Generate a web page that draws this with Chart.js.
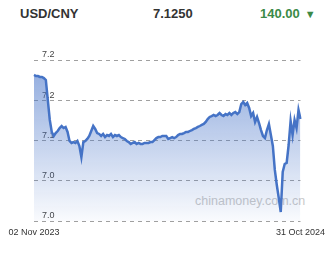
<!DOCTYPE html>
<html>
<head>
<meta charset="utf-8">
<script src="https://cdn.jsdelivr.net/npm/chart.js@4"></script>
<style>
  html, body { margin: 0; padding: 0; background: #fff; }
  #wrap { position: relative; width: 331px; height: 255px; font-family: "Liberation Sans", Arial, sans-serif; }
  .hd { position: absolute; top: 6px; font-size: 13px; font-weight: bold; color: #333; }
  #pair { left: 20px; }
  #rate { left: 153px; }
  #chg { left: 260px; color: #3b8a47; }
  #chg span { font-size: 11px; margin-left: 5px; }
  #mark { position: absolute; left: 195px; top: 194px; font-size: 12.5px; color: #c9c9c9; z-index: 0; }
  #c { position: absolute; left: 0; top: 0; z-index: 1; }
</style>
</head>
<body>
<div id="wrap">
  <div class="hd" id="pair">USD/CNY</div>
  <div class="hd" id="rate">7.1250</div>
  <div class="hd" id="chg">140.00<span>▼</span></div>
  <div id="mark">chinamoney.com.cn</div>
  <canvas id="c" width="331" height="255"></canvas>
</div>
<script>
var startLabel = "02 Nov 2023";
var endLabel = "31 Oct 2024";
var yTicks = [7.00, 7.05, 7.10, 7.15, 7.20];
var rates = [
  7.1814, 7.1801, 7.1801, 7.1789, 7.1789, 7.1776, 7.1752, 7.1503, 7.1255, 7.1106,
  7.1056, 7.1093, 7.1118, 7.1155, 7.1180, 7.1155, 7.1168, 7.1106, 7.0994, 7.0969,
  7.0981, 7.0969, 7.0994, 7.0932, 7.0795, 7.0981, 7.0994, 7.1019, 7.1056, 7.1118,
  7.1180, 7.1143, 7.1093, 7.1081, 7.1056, 7.1081, 7.1043, 7.1068, 7.1056, 7.1081,
  7.1043, 7.1068, 7.1056, 7.1068, 7.1043, 7.1031, 7.1019, 7.0994, 7.0981, 7.0957,
  7.0969, 7.0981, 7.0957, 7.0969, 7.0957, 7.0957, 7.0969, 7.0969, 7.0969, 7.0981,
  7.0981, 7.1006, 7.1031, 7.1043, 7.1043, 7.1056, 7.1056, 7.1056, 7.1019, 7.1031,
  7.1043, 7.1031, 7.1043, 7.1068, 7.1081, 7.1081, 7.1093, 7.1106, 7.1106, 7.1118,
  7.1130, 7.1143, 7.1155, 7.1168, 7.1180, 7.1193, 7.1205, 7.1230, 7.1267, 7.1292,
  7.1304, 7.1317, 7.1304, 7.1317, 7.1342, 7.1317, 7.1304, 7.1329, 7.1317, 7.1342,
  7.1317, 7.1342, 7.1354, 7.1329, 7.1354, 7.1453, 7.1478, 7.1441, 7.1466, 7.1404,
  7.1304, 7.1342, 7.1230, 7.1292, 7.1217, 7.1130, 7.1056, 7.1031, 7.1130, 7.1205,
  7.1068, 7.0932, 7.0634, 7.0447, 7.0286, 7.0112, 7.0609, 7.0708, 7.0721, 7.0944,
  7.1242, 7.1068, 7.1255, 7.1155, 7.1379, 7.1267
];
var labels = rates.map(function (v, i) {
  return i === 0 ? startLabel : (i === rates.length - 1 ? endLabel : "");
});

var ctx = document.getElementById("c").getContext("2d");

var chart = new Chart(ctx, {
  type: "line",
  data: {
    labels: labels,
    datasets: [{
      data: rates,
      borderColor: "#4573c6",
      borderWidth: 2.5,
      pointRadius: 0,
      tension: 0,
      fill: "start",
      backgroundColor: function (c) {
        var a = c.chart.chartArea;
        if (!a) return "rgba(74,120,201,0.4)";
        var g = c.chart.ctx.createLinearGradient(0, a.top, 0, a.bottom);
        g.addColorStop(0, "rgba(70,115,200,0.62)");
        g.addColorStop(1, "rgba(70,115,200,0.03)");
        return g;
      }
    }]
  },
  options: {
    responsive: false,
    animation: false,
    layout: { padding: { left: 34, right: 27, top: 60, bottom: 0 } },
    plugins: { legend: { display: false }, tooltip: { enabled: false } },
    scales: {
      x: {
        offset: false,
        grid: { display: false, drawTicks: false },
        border: { display: false },
        afterFit: function (s) { s.height = 34; },
        ticks: {
          autoSkip: false,
          maxRotation: 0,
          padding: 6,
          color: "#333",
          font: { family: "Liberation Sans", size: 9 }
        }
      },
      y: {
        min: 7.0,
        max: 7.2,
        afterFit: function (s) { s.width = 0; },
        afterBuildTicks: function (s) {
          s.ticks = yTicks.map(function (v) { return { value: v }; });
        },
        grid: { color: "#a0a0a0", lineWidth: 1, drawTicks: false },
        border: { display: false, dash: [4, 4] },
        ticks: {
          mirror: true,
          padding: 8,
          labelOffset: -5,
          color: "#444",
          font: { family: "Liberation Sans", size: 9 },
          callback: function (v) { return Number(v).toFixed(1); }
        }
      }
    }
  }
});
</script>
</body>
</html>
